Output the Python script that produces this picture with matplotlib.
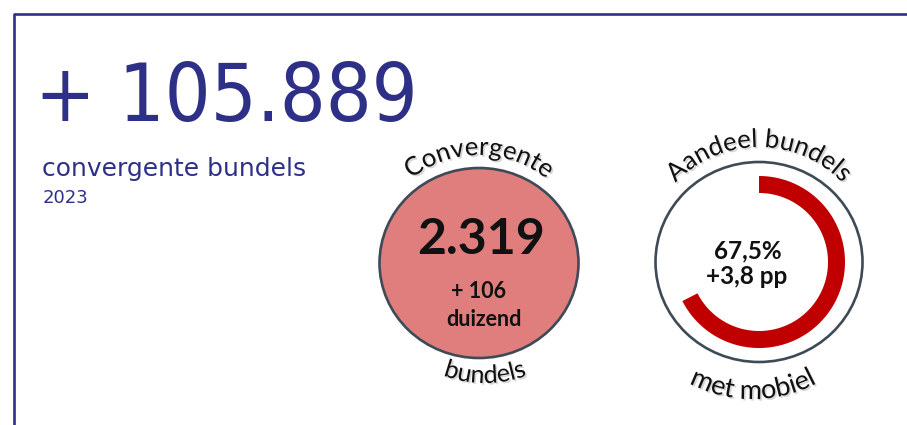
import numpy as np
import matplotlib
matplotlib.use("Agg")
import matplotlib.pyplot as plt
import matplotlib.patheffects as pe
from matplotlib.patches import Ellipse, Polygon
from matplotlib.font_manager import FontProperties
from matplotlib.textpath import TextToPath

# data
headline_growth = 105889          # extra convergente bundels
headline_label = "convergente bundels"
year = 2023
bundles_total_k = 2319            # duizend
bundles_growth_k = 106
share_mobile_pct = 67.5
share_change_pp = 3.8

NAVY = "#2E3087"
DPI = 100
W, H = 907, 425


def nl_int(v):
    return f"{v:,}".replace(",", ".")


def nl_dec(v):
    return f"{v:.1f}".replace(".", ",")


_ttp = TextToPath()


def text_width(s, fp):
    s = s.rstrip()
    if not s:
        return 0.0
    w, _, _ = _ttp.get_text_width_height_descent(s, fp, ismath=False)
    return w * DPI / 72.0


shadow = [pe.SimplePatchShadow(offset=(1.2, -1.2), shadow_rgbFace="#888888", alpha=0.35),
          pe.Normal()]


def arc_text(ax, s, cx, cy, r, side, size):
    """Draw text character by character along a circle (pixel coords, y down)."""
    fp = FontProperties(family="Lato", size=size)
    total = text_width(s, fp)
    for i, ch in enumerate(s):
        if ch == " ":
            continue
        right = text_width(s[:i + 1], fp)
        mid = right - text_width(ch, fp) / 2 - total / 2
        a = mid / r
        x = cx + r * np.sin(a)
        if side == "top":
            y = cy - r * np.cos(a)
            rot = -np.degrees(a)
        else:
            y = cy + r * np.cos(a)
            rot = np.degrees(a)
        ax.text(x, y, ch, fontproperties=fp, color="#111111", ha="center",
                va="baseline", rotation=rot, rotation_mode="anchor",
                path_effects=shadow)


fig = plt.figure(figsize=(W / DPI, H / DPI), dpi=DPI)
ax = fig.add_axes([0, 0, 1, 1])
ax.set_xlim(0, W)
ax.set_ylim(H, 0)
ax.axis("off")

# frame
ax.plot([14, 14, W], [H, 14, 14], color=NAVY, lw=1.9, solid_capstyle="butt")

# headline block
big = FontProperties(family="DejaVu Sans", stretch="condensed", size=58)
ax.text(35, 121, "+ " + nl_int(headline_growth), fontproperties=big,
        color=NAVY, va="baseline", ha="left")
ax.text(42, 176, headline_label, color=NAVY, va="baseline", ha="left",
        family="DejaVu Sans", size=18)
ax.text(43, 203, str(year), color=NAVY, va="baseline", ha="left",
        family="DejaVu Sans", size=13)

# circle 1: convergente bundels
c1x, c1y = 479, 263
ax.add_patch(Ellipse((c1x, c1y), 199, 190, facecolor="#E07D7D",
                     edgecolor="#3E4A56", lw=1.9))
ax.text(c1x + 2, 239, nl_int(bundles_total_k), family="Lato", weight="bold",
        size=36, color="#111111", ha="center", va="center")
ax.text(c1x, 291, f"+ {bundles_growth_k}", family="Lato", weight="bold",
        size=15.5, color="#111111", ha="center", va="center")
ax.text(c1x + 5, 319, "duizend", family="Lato", weight="bold",
        size=15.5, color="#111111", ha="center", va="center")
arc_text(ax, "Convergente", c1x, c1y, 108, "top", 18.5)
arc_text(ax, "bundels", c1x + 6, c1y, 120, "bottom", 18)

# circle 2: aandeel bundels met mobiel
c2x, c2y = 759, 262
ax.add_patch(Ellipse((c2x, c2y), 207, 200, facecolor="white",
                     edgecolor="#3E4A56", lw=1.9))
t = np.linspace(0, share_mobile_pct / 100 * 2 * np.pi, 200)
r_out, r_in = 86, 69
outer = np.column_stack([c2x + r_out * np.sin(t), c2y - r_out * np.cos(t)])
inner = np.column_stack([c2x + r_in * np.sin(t), c2y - r_in * np.cos(t)])[::-1]
ax.add_patch(Polygon(np.vstack([outer, inner]), closed=True,
                     facecolor="#C00000", edgecolor="none"))
ax.text(748, 251, nl_dec(share_mobile_pct) + "%", family="Lato", weight="bold",
        size=17.5, color="#111111", ha="center", va="center")
ax.text(747, 277, f"+{nl_dec(share_change_pp)} pp", family="Lato", weight="bold",
        size=17.5, color="#111111", ha="center", va="center")
arc_text(ax, "Aandeel bundels", c2x, c2y, 115, "top", 18.5)
arc_text(ax, "met mobiel", c2x - 6, c2y, 137, "bottom", 19.5)

fig.savefig("out.png", dpi=DPI, facecolor="white")
